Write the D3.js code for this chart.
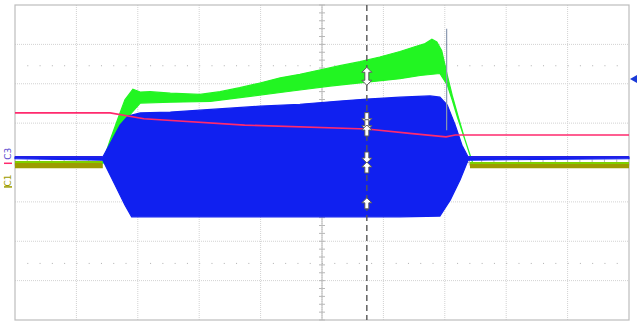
<!DOCTYPE html>
<html>
<head>
<meta charset="utf-8">
<script src="https://cdn.jsdelivr.net/npm/d3@7"></script>
<style>
  html, body { margin: 0; padding: 0; background: #ffffff; }
  svg { display: block; }
</style>
</head>
<body>
<div id="chart"></div>
<script>
// Screen is 10 horizontal x 8 vertical divisions; all trace data in divisions.
const timeDomain = [-5, 5];
const voltDomain = [-4, 4];

// Channel 3 (blue) burst envelope: upper edge then lower edge
const blueUpper = [
  [-5.0, 0.14], [-3.57, 0.14], [-3.42, 0.57], [-3.29, 0.95], [-3.16, 1.18],
  [-2.96, 1.26], [-2.47, 1.28], [-1.99, 1.33], [-1.50, 1.38], [-1.01, 1.43],
  [-0.36, 1.48], [0.29, 1.56], [0.73, 1.61], [1.27, 1.66], [1.76, 1.69],
  [1.92, 1.66], [2.04, 1.46], [2.17, 0.95], [2.28, 0.44], [2.38, 0.14], [5.0, 0.14]
];
const blueLower = [
  [-5.0, 0.10], [-3.57, 0.06], [-3.37, -0.57], [-3.21, -1.08], [-3.10, -1.38],
  [-1.99, -1.38], [-0.36, -1.38], [1.27, -1.38], [1.92, -1.36], [2.09, -0.95],
  [2.25, -0.44], [2.38, 0.06], [5.0, 0.10]
];

// Channel 2 (green) burst envelope
const greenUpper = [
  [-3.57, 0.01], [-3.45, 0.57], [-3.32, 1.13], [-3.21, 1.59], [-3.08, 1.86],
  [-2.96, 1.79], [-2.80, 1.80], [-2.47, 1.76], [-1.99, 1.73], [-1.66, 1.80],
  [-1.34, 1.90], [-1.01, 2.02], [-0.68, 2.15], [-0.36, 2.24], [-0.04, 2.35],
  [0.29, 2.46], [0.62, 2.56], [0.94, 2.68], [1.27, 2.82], [1.51, 2.94],
  [1.68, 3.02], [1.79, 3.13], [1.87, 3.06], [1.95, 2.84], [2.04, 2.22],
  [2.12, 1.71], [2.21, 1.21], [2.33, 0.57], [2.41, 0.19]
];
const greenLower = [
  [-3.57, -0.03], [-3.37, 0.57], [-3.16, 1.16], [-2.96, 1.51], [-2.47, 1.53],
  [-1.82, 1.55], [-1.17, 1.68], [-0.52, 1.81], [0.13, 1.94], [0.73, 2.04],
  [1.27, 2.13], [1.60, 2.21], [1.92, 2.26], [2.04, 1.97], [2.12, 1.59],
  [2.21, 1.13], [2.33, 0.57], [2.45, 0.01]
];
const greenBaseLeft = [[-5.0, 0.01], [-3.57, 0.01]];
const greenBaseRight = [[2.41, -0.01], [5.0, -0.01]];

// Channel 1 (olive) flat trace outside the burst
const oliveLeft = [[-5.0, -0.07], [-3.57, -0.07]];
const oliveRight = [[2.41, -0.07], [5.0, -0.07]];

// Channel 4 (red) slow ramp
const redTrace = [
  [-5.0, 1.26], [-3.45, 1.26], [-2.90, 1.11], [-1.26, 0.95], [0.73, 0.85],
  [1.43, 0.74], [2.02, 0.65], [2.17, 0.70], [5.0, 0.70]
];

// Narrow spike near the burst end
const spike = [[2.03, 3.4], [2.03, 0.82]];

// Cursor position and its readout markers
const cursorTime = 0.73;
const markerLevels = [2.19, 1.14, 0.96, 0.80, 0.14, -0.14, -1.05];
const markerKinds = ["both", "down", "down", "up", "down", "up", "up"];

// Channel labels on the left edge and trigger marker on the right
const channelLabels = ["C3", "C1"];
const labelLevels = [0.22, -0.46];
const triggerLevel = 2.12;

const W = 637, H = 322;
const plotL = 15, plotR = 629, plotT = 5, plotB = 320;

const x = d3.scaleLinear().domain(timeDomain).range([plotL, plotR]);
const y = d3.scaleLinear().domain(voltDomain).range([plotB, plotT]);

const svg = d3.select("#chart").append("svg")
  .attr("width", W).attr("height", H);

// Graticule
const grid = svg.append("g");
d3.range(-4, 5).forEach(t => {
  grid.append("line")
    .attr("x1", x(t)).attr("x2", x(t)).attr("y1", plotT).attr("y2", plotB)
    .attr("stroke", "#d2d2d2").attr("stroke-width", 1)
    .attr("stroke-dasharray", "1,1");
});
d3.range(-3, 4).forEach(v => {
  grid.append("line")
    .attr("x1", plotL).attr("x2", plotR).attr("y1", y(v)).attr("y2", y(v))
    .attr("stroke", "#d2d2d2").attr("stroke-width", 1)
    .attr("stroke-dasharray", "1,1");
});
// Center axes with minor ticks
grid.append("line").attr("x1", x(0)).attr("x2", x(0)).attr("y1", plotT).attr("y2", plotB)
  .attr("stroke", "#b8b8b8");
grid.append("line").attr("x1", plotL).attr("x2", plotR).attr("y1", y(0)).attr("y2", y(0))
  .attr("stroke", "#b8b8b8");
d3.range(-4, 4.01, 0.2).forEach(v => {
  grid.append("line").attr("x1", x(0) - 3).attr("x2", x(0) + 3)
    .attr("y1", y(v)).attr("y2", y(v)).attr("stroke", "#b8b8b8");
});
d3.range(-5, 5.01, 0.2).forEach(t => {
  grid.append("line").attr("x1", x(t)).attr("x2", x(t))
    .attr("y1", y(0) - 3).attr("y2", y(0) + 3).attr("stroke", "#b8b8b8");
});
// Sparse dot rows
[2.47, -2.55].forEach(v => {
  d3.range(-4.8, 5, 0.2).forEach(t => {
    grid.append("rect").attr("x", x(t)).attr("y", y(v)).attr("width", 1).attr("height", 1)
      .attr("fill", "#b0b0b0");
  });
});
// Border
svg.append("rect").attr("x", plotL).attr("y", plotT)
  .attr("width", plotR - plotL).attr("height", plotB - plotT)
  .attr("fill", "none").attr("stroke", "#bdbdbd").attr("stroke-width", 1.2);

const line = d3.line().x(d => x(d[0])).y(d => y(d[1]));
const band = (upper, lower) => line(upper.concat(lower.slice().reverse())) + "Z";

// Olive trace
[oliveLeft, oliveRight].forEach(seg => {
  svg.append("path").attr("d", line(seg)).attr("fill", "none")
    .attr("stroke", "#9c9c00").attr("stroke-width", 6);
});
// Green baseline
[greenBaseLeft, greenBaseRight].forEach(seg => {
  svg.append("path").attr("d", line(seg)).attr("fill", "none")
    .attr("stroke", "#7fd000").attr("stroke-width", 2);
});

// Green burst
svg.append("path").attr("d", band(greenUpper, greenLower))
  .attr("fill", "#22f522").attr("stroke", "#22f522").attr("stroke-width", 1.2);

// Blue trace and burst
svg.append("path").attr("d", band(blueUpper, blueLower))
  .attr("fill", "#1020f0").attr("stroke", "#1020f0").attr("stroke-width", 1.2);
svg.append("path").attr("d", line(blueUpper.slice(0, 2)))
  .attr("fill", "none").attr("stroke", "#2020e8").attr("stroke-width", 2);
svg.append("path").attr("d", line(blueUpper.slice(-2)))
  .attr("fill", "none").attr("stroke", "#2020e8").attr("stroke-width", 2);

// Spike
svg.append("path").attr("d", line(spike)).attr("stroke", "#8a98b0")
  .attr("stroke-width", 1.2).attr("fill", "none");

// Red trace
svg.append("path").attr("d", line(redTrace)).attr("fill", "none")
  .attr("stroke", "#ff2a6e").attr("stroke-width", 1.6);

// Cursor
svg.append("line").attr("x1", x(cursorTime)).attr("x2", x(cursorTime))
  .attr("y1", plotT).attr("y2", plotB)
  .attr("stroke", "#555").attr("stroke-width", 1.4).attr("stroke-dasharray", "6,4");

// Cursor readout arrows
const upArrow = "M0,-6 L5,-1 L2,-1 L2,5 L-2,5 L-2,-1 L-5,-1 Z";
const downArrow = "M0,6 L5,1 L2,1 L2,-5 L-2,-5 L-2,1 L-5,1 Z";
const bothArrow = "M0,-9 L5,-4 L2,-4 L2,4 L5,4 L0,9 L-5,4 L-2,4 L-2,-4 L-5,-4 Z";
markerLevels.forEach((v, i) => {
  const k = markerKinds[i];
  svg.append("path")
    .attr("d", k === "both" ? bothArrow : k === "up" ? upArrow : downArrow)
    .attr("transform", `translate(${x(cursorTime)},${y(v)})`)
    .attr("fill", "#ffffff").attr("stroke", "#5a5a5a").attr("stroke-width", 1);
});

// Channel labels
const labelColors = ["#5a4bd0", "#9c9c00"];
channelLabels.forEach((t, i) => {
  svg.append("text")
    .attr("transform", `translate(11,${y(labelLevels[i])}) rotate(-90)`)
    .attr("text-anchor", "middle")
    .attr("font-family", "DejaVu Sans, sans-serif").attr("font-size", 9)
    .attr("fill", labelColors[i]).text(t);
});
svg.append("line").attr("x1", 4).attr("x2", 12).attr("y1", y(-0.02)).attr("y2", y(-0.02))
  .attr("stroke", "#ff2a6e").attr("stroke-width", 1.5);
svg.append("line").attr("x1", 4).attr("x2", 12).attr("y1", y(-0.62)).attr("y2", y(-0.62))
  .attr("stroke", "#9c9c00").attr("stroke-width", 1.5);

// Trigger level marker
svg.append("path")
  .attr("d", `M${W},${y(triggerLevel) - 4} L${plotR + 1},${y(triggerLevel)} L${W},${y(triggerLevel) + 4} Z`)
  .attr("fill", "#1a3ad8");
</script>
</body>
</html>
